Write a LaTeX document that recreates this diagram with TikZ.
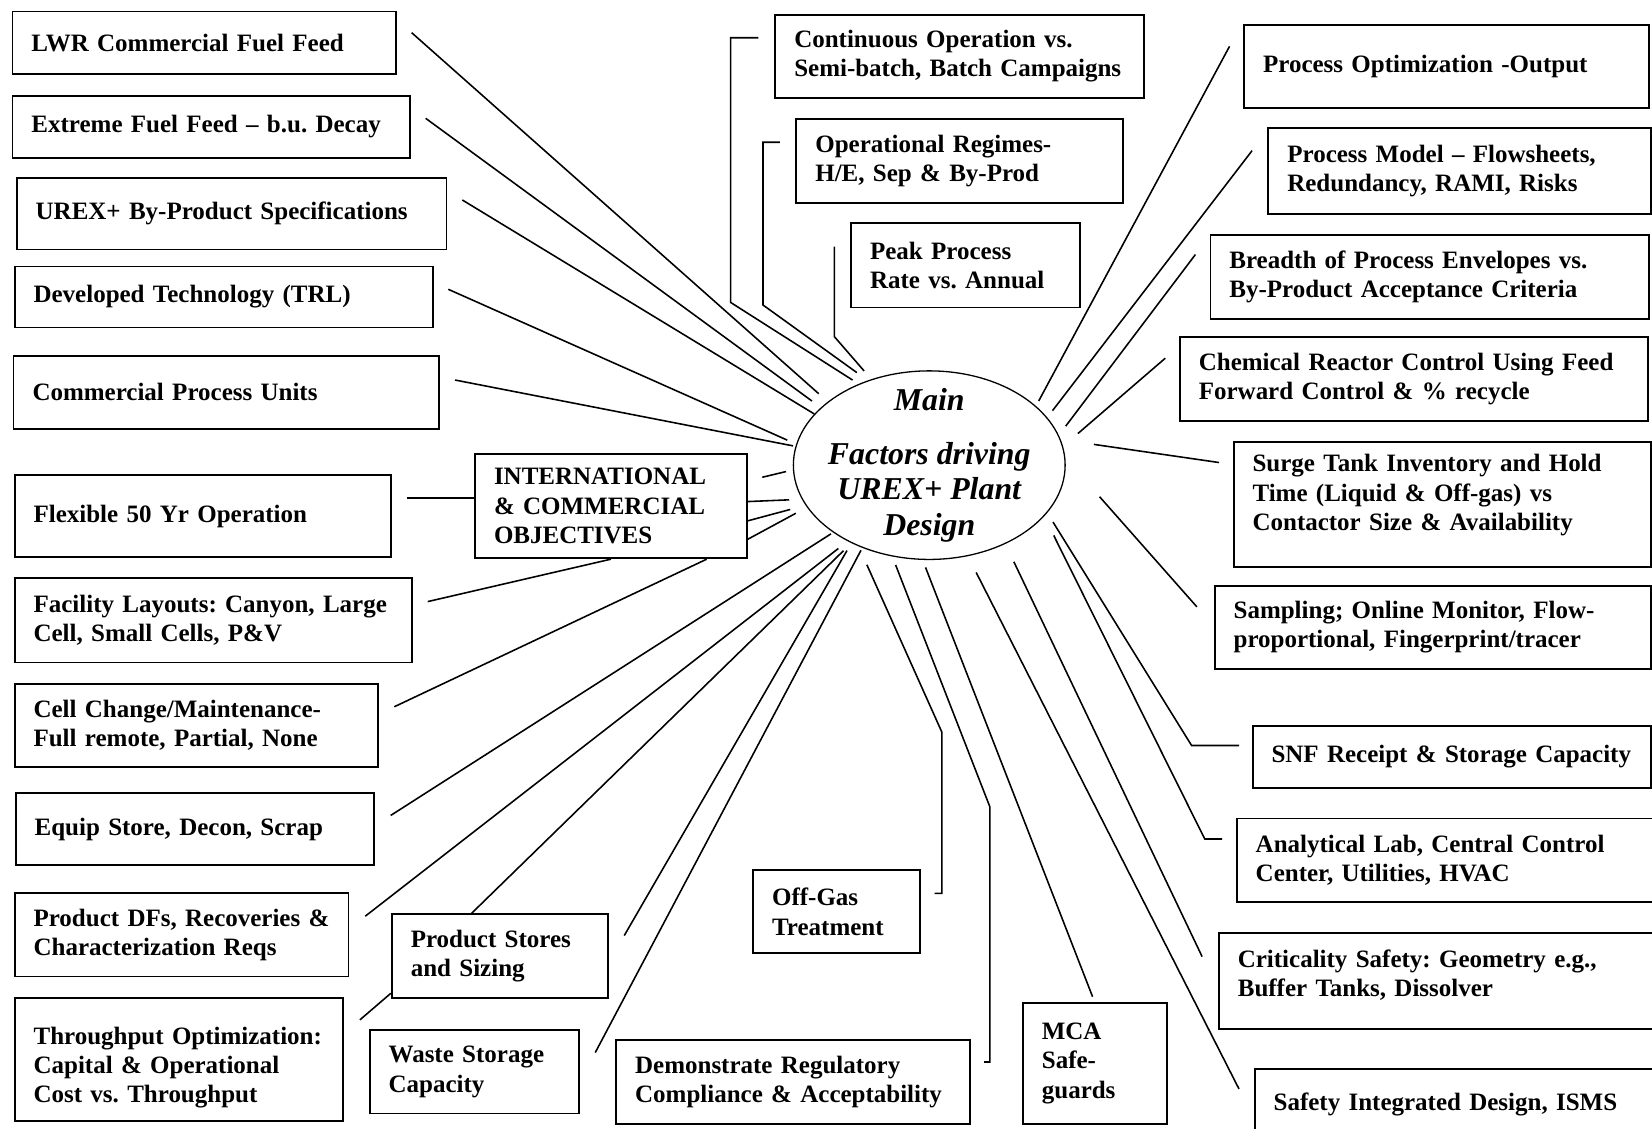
\documentclass[tikz,border=0pt]{standalone}
\usepackage{fontspec}
\setmainfont{Liberation Serif}
\usepackage{tikz}
\usetikzlibrary{calc, shapes.geometric}

\begin{document}
\begin{tikzpicture}[x=0.02cm, y=-0.02cm,
    factor/.style={draw, line width=1pt, anchor=north west, align=left, inner xsep=0.36cm, inner ysep=0pt, font=\fontsize{13.5}{15.8}\selectfont\bfseries\frenchspacing},
    hub/.style={draw, ellipse, line width=0.7pt, inner sep=-1cm, minimum width=5.16cm, minimum height=3.58cm, align=center, font=\fontsize{17.2}{19.3}\selectfont\bfseries\itshape},
    link/.style={line width=0.85pt}]
    \useasboundingbox (0,0) rectangle (1568,1071);
    \clip (0,0) rectangle (1568,1071);

    \node[hub] (main) at (882,441.5) {Main\\[9.8pt]Factors driving\\UREX+ Plant\\Design};

    \node[factor, text width=6.56cm, minimum height=1.18cm] (lwr) at (11,10) {LWR Commercial Fuel Feed};
    \node[factor, text width=6.82cm, minimum height=1.18cm] (extreme) at (11,90) {Extreme Fuel Feed – b.u. Decay};
    \node[factor, text width=7.44cm, minimum height=1.36cm] (urex) at (15,168) {UREX+ By-Product Specifications};
    \node[factor, text width=7.22cm, minimum height=1.16cm] (trl) at (13,252) {Developed Technology (TRL)};
    \node[factor, text width=7.36cm, minimum height=1.38cm] (units) at (12,337) {Commercial Process Units};
    \node[factor, text width=6.42cm, minimum height=1.56cm] (flexible) at (13,450) {Flexible 50 Yr Operation};
    \node[factor, text width=4.44cm, minimum height=1.98cm] (intl) at (450,430) {INTERNATIONAL\\\& COMMERCIAL\\OBJECTIVES};
    \node[factor, text width=6.82cm, minimum height=1.60cm] (layouts) at (13,548) {Facility Layouts: Canyon, Large\\Cell, Small Cells, P\&V};
    \node[factor, text width=6.18cm, minimum height=1.58cm] (cellchange) at (13,648) {Cell Change/Maintenance-\\Full remote, Partial, None};
    \node[factor, text width=6.08cm, minimum height=1.36cm] (equip) at (14,752) {Equip Store, Decon, Scrap};
    \node[factor, text width=5.62cm, minimum height=1.58cm] (dfs) at (13,847) {Product DFs, Recoveries \&\\Characterization Reqs};
    \node[factor, text width=5.52cm, minimum height=2.34cm] (throughput) at (13,946) {\mbox{}\\[2.7pt]Throughput Optimization:\\Capital \& Operational\\Cost vs. Throughput};
    \node[factor, text width=3.38cm, minimum height=1.58cm] (stores) at (371,867) {Product Stores\\and Sizing};
    \node[factor, text width=3.26cm, minimum height=1.58cm] (waste) at (350,977) {Waste Storage\\Capacity};
    \node[factor, text width=6.00cm, minimum height=1.60cm] (regulatory) at (584,986) {Demonstrate Regulatory\\Compliance \& Acceptability};
    \node[factor, text width=2.44cm, minimum height=1.58cm] (offgas) at (714,825) {Off-Gas\\Treatment};
    \node[factor, text width=2.02cm, minimum height=2.30cm] (mca) at (970,951) {MCA\\Safe-\\guards};
    \node[factor, text width=6.28cm, minimum height=1.58cm] (continuous) at (735,13) {Continuous Operation vs.\\Semi-batch, Batch Campaigns};
    \node[factor, text width=5.48cm, minimum height=1.60cm] (regimes) at (755,112) {Operational Regimes-\\H/E, Sep \& By-Prod};
    \node[factor, text width=3.62cm, minimum height=1.60cm] (peak) at (807,211) {Peak Process\\Rate vs. Annual};
    \node[factor, text width=6.96cm, minimum height=1.58cm] (output) at (1180,23) {Process Optimization -Output};
    \node[factor, text width=6.54cm, minimum height=1.62cm] (model) at (1203,121) {Process Model – Flowsheets,\\Redundancy, RAMI, Risks};
    \node[factor, text width=7.60cm, minimum height=1.60cm] (envelopes) at (1148,222) {Breadth of Process Envelopes vs.\\By-Product Acceptance Criteria};
    \node[factor, text width=8.16cm, minimum height=1.60cm] (reactor) at (1119,319) {Chemical Reactor Control Using Feed\\Forward Control \& \% recycle};
    \node[factor, text width=7.20cm, minimum height=2.36cm] (surge) at (1170,419) {Surge Tank Inventory and Hold\\Time (Liquid \& Off-gas) vs\\Contactor Size \& Availability\\[-2.7pt]\mbox{}};
    \node[factor, text width=7.56cm, minimum height=1.58cm] (sampling) at (1152,555) {Sampling; Online Monitor, Flow-\\proportional, Fingerprint/tracer};
    \node[factor, text width=6.84cm, minimum height=1.18cm] (snf) at (1188,688) {SNF Receipt \& Storage Capacity};
    \node[factor, text width=7.22cm, minimum height=1.58cm] (lab) at (1173,776) {Analytical Lab, Central Control\\Center, Utilities, HVAC};
    \node[factor, text width=7.56cm, minimum height=1.82cm] (criticality) at (1156,885) {Criticality Safety: Geometry e.g.,\\Buffer Tanks, Dissolver\\[-7.1pt]\mbox{}};
    \node[factor, text width=6.88cm, minimum height=1.32cm] (isms) at (1190,1014) {Safety Integrated Design, ISMS};

    \coordinate (lwr-end) at (390.7,31);
    \coordinate (extreme-end) at (404,112.3);
    \coordinate (urex-end) at (438.8,189.8);
    \coordinate (trl-end) at (425.5,274.6);
    \coordinate (units-end) at (431.9,360.7);
    \coordinate (flexible-end) at (386,472.8);
    \coordinate (layouts-end) at (406,571);
    \coordinate (cellchange-end) at (374.3,670.8);
    \coordinate (equip-end) at (370.8,774);
    \coordinate (dfs-end) at (346.7,869.6);
    \coordinate (throughput-end) at (341.6,968);
    \coordinate (stores-end) at (592.5,888);
    \coordinate (waste-end) at (565,999);
    \coordinate (stub-end) at (723.5,453);
    \coordinate (continuous-bend) at (693.4,287);
    \coordinate (continuous-end) at (719.7,35.8);
    \coordinate (regimes-bend) at (724.2,289.5);
    \coordinate (regimes-end) at (740.3,135);
    \coordinate (peak-bend) at (791.9,319.5);
    \coordinate (peak-end) at (791.9,234);
    \coordinate (output-end) at (1167,44);
    \coordinate (model-end) at (1188.4,143);
    \coordinate (envelopes-end) at (1134.6,241.6);
    \coordinate (reactor-end) at (1106,340);
    \coordinate (surge-end) at (1157,439);
    \coordinate (sampling-end) at (1136,576);
    \coordinate (snf-bend) at (1131,707.6);
    \coordinate (snf-end) at (1176,707.6);
    \coordinate (lab-bend) at (1143.5,796.3);
    \coordinate (lab-end) at (1160,796.3);
    \coordinate (criticality-end) at (1141,908);
    \coordinate (isms-end) at (1176,1033.6);
    \coordinate (mca-end) at (1037,946);
    \coordinate (regulatory-bend) at (939.6,766);
    \coordinate (regulatory-end) at (934,1008);
    \coordinate (offgas-bend) at (894,695);
    \coordinate (offgas-end) at (887,848);

    \draw[link, shorten <=0.228cm] (main.148.2) -- (lwr-end);
    \draw[link, shorten <=0.208cm] (main.152.9) -- (extreme-end);
    \draw[link] (main.156.15) -- (urex-end);
    \draw[link, shorten <=0.184cm] (main.171.4) -- (trl-end);
    \draw[link, shorten <=0.048cm] (main.172.35) -- (units-end);
    \draw[link, shorten <=0.136cm] (main.131.2) -- (continuous-bend) |- (continuous-end);
    \draw[link, shorten <=0.254cm] (main.126.4) -- (regimes-bend) |- (regimes-end);
    \draw[link, shorten <=0.208cm] (main.124.76) -- (peak-bend) -- (peak-end);
    \draw[link, shorten <=0.108cm] (main.29.67) -- (output-end);
    \draw[link, shorten <=0.162cm] (main.22.15) -- (model-end);
    \draw[link, shorten <=0.216cm] (main.13.17) -- (envelopes-end);
    \draw[link, shorten <=0.372cm] (main.8.15) -- (reactor-end);
    \draw[link, shorten <=0.636cm] (main.11.65) -- (surge-end);
    \draw[link, shorten <=0.98cm] (main.3.3) -- (sampling-end);
    \draw[link, shorten <=0.206cm] (main.338.14) -- (snf-bend) -- (snf-end);
    \draw[link, shorten <=0.406cm] (main.336.76) -- (lab-bend) -- (lab-end);
    \draw[link, shorten <=0.374cm] (main.314.93) -- (criticality-end);
    \draw[link, shorten <=0.346cm] (main.293.46) -- (isms-end);
    \draw[link, shorten <=0.152cm] (main.266.35) -- (mca-end);
    \draw[link, shorten <=0.172cm] (main.248.87) -- (regulatory-bend) |- (regulatory-end);
    \draw[link, shorten <=0.382cm] (main.229.53) -- (offgas-bend) |- (offgas-end);
    \draw[link, shorten <=0.048cm] (main.215.11) -- (equip-end);
    \draw[link, shorten <=0.224cm] (main.223.23) -- (dfs-end);
    \draw[link, shorten <=0.208cm] (main.225.57) -- ($(stores.north west)!0.37!(stores.north east)$);
    \draw[link, shorten <=0.164cm] (main.225.66) -- (stores-end);
    \draw[link, shorten <=0.052cm] (main.231.19) -- (waste-end);
    \draw[link, shorten <=0.134cm] (main.182.45) -- (stub-end);
    \draw[link, shorten <=0.24cm] (main.195.75) -- ($(intl.east)+(0,-4.3)$);
    \draw[link, shorten <=0.302cm] (main.198.0) -- ($(intl.east)+(0,14)$);
    \draw[link, shorten <=0.24cm] (main.199.79) -- ($(intl.east)+(0,31.5)$);
    \draw[link] (flexible-end) -- (flexible-end -| intl.west);
    \draw[link] (layouts-end) -- (intl.south);
    \draw[link] (cellchange-end) -- ($(intl.south)!0.7!(intl.south east)$);
    \draw[link] (throughput-end) -- ($(stores.south west)+(0,-5)$);
\end{tikzpicture}
\end{document}
